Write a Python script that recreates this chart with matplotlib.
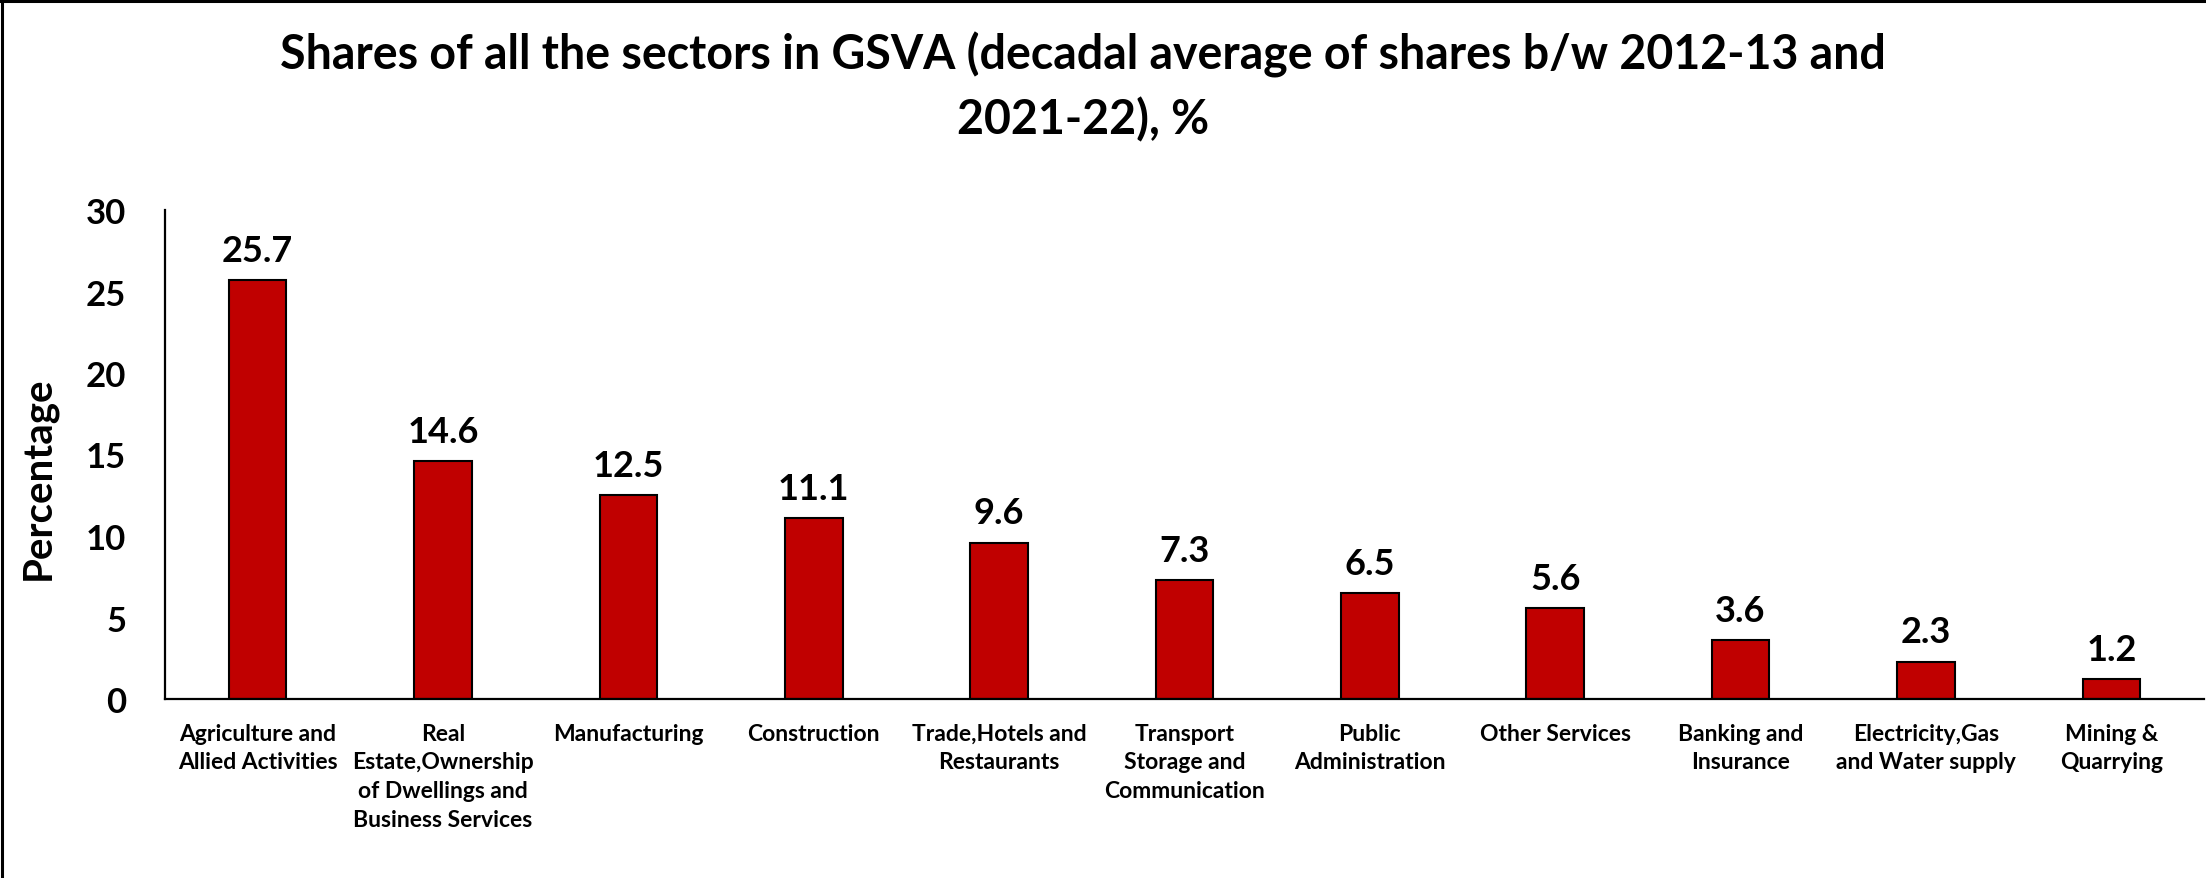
import matplotlib
matplotlib.use("Agg")
import matplotlib.pyplot as plt
from matplotlib.lines import Line2D

plt.rcParams['font.family'] = ['Lato', 'DejaVu Sans']

categories = [
    "Agriculture and\nAllied Activities",
    "Real\nEstate,Ownership\nof Dwellings and\nBusiness Services",
    "Manufacturing",
    "Construction",
    "Trade,Hotels and\nRestaurants",
    "Transport\nStorage and\nCommunication",
    "Public\nAdministration",
    "Other Services",
    "Banking and\nInsurance",
    "Electricity,Gas\nand Water supply",
    "Mining &\nQuarrying",
]
shares = [25.7, 14.6, 12.5, 11.1, 9.6, 7.3, 6.5, 5.6, 3.6, 2.3, 1.2]
yticks = [0, 5, 10, 15, 20, 25, 30]

W, H = 2206, 879
fig = plt.figure(figsize=(W / 100, H / 100), dpi=100)
ax = fig.add_axes([165 / W, 1 - 700 / H, (2204 - 165) / W, (700 - 211) / H])

x = list(range(len(categories)))
bars = ax.bar(x, shares, width=0.31, color="#C00000", edgecolor="black", linewidth=1.5)
ax.bar_label(bars, labels=[f"{v:.1f}" for v in shares], padding=9.5,
             fontsize=26, fontweight="bold")

ax.set_xlim(-0.5, len(categories) - 0.5)
ax.set_ylim(0, 30)
ax.set_yticks(yticks)
ax.set_yticklabels([str(t) for t in yticks], fontsize=25, fontweight="bold")
ax.set_xticks(x)
ax.set_xticklabels(categories, fontsize=16.5, fontweight="bold", linespacing=1.46, va="top")
ax.tick_params(axis="x", length=0, pad=17)
ax.tick_params(axis="y", length=0, pad=28)

for s in ["top", "right"]:
    ax.spines[s].set_visible(False)
for s in ["left", "bottom"]:
    ax.spines[s].set_linewidth(1.6)
    ax.spines[s].set_color("black")

fig.text(38 / W, 1 - 478 / H, "Percentage", rotation=90, fontsize=29,
         fontweight="bold", ha="center", va="center")

fig.text(1083 / W, 1 - 87 / H,
         "Shares of all the sectors in GSVA (decadal average of shares b/w 2012-13 and\n2021-22), %",
         fontsize=33.5, fontweight="bold", ha="center", va="center", linespacing=1.5)

# figure border (left and top edges)
fig.add_artist(Line2D([1.5 / W, 1.5 / W], [0, 1], color="black", linewidth=2.2,
                      transform=fig.transFigure))
fig.add_artist(Line2D([0, 1], [1 - 1.5 / H, 1 - 1.5 / H], color="black", linewidth=2.2,
                      transform=fig.transFigure))

fig.savefig("out.png", dpi=100)
